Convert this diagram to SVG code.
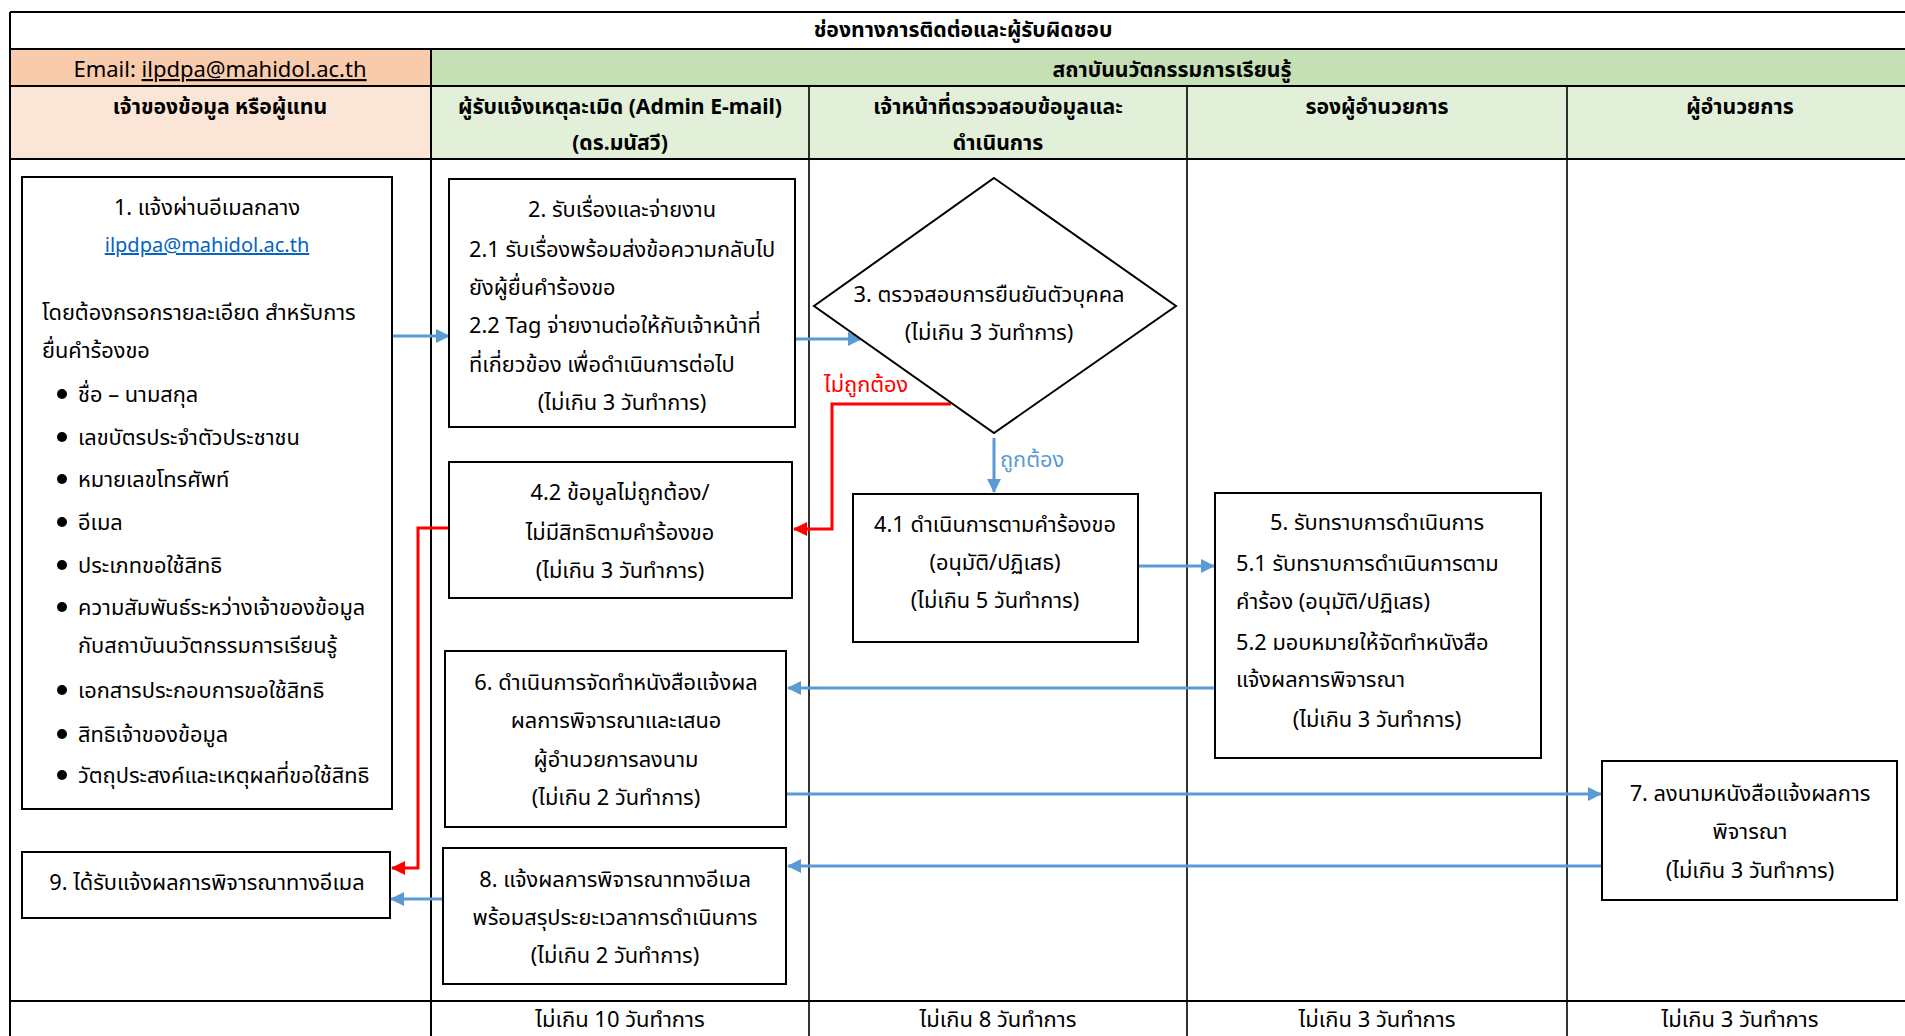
<svg xmlns="http://www.w3.org/2000/svg" width="1905" height="1036" viewBox="0 0 1905 1036">
<style>
.t{font-family:"Noto Sans","Noto Sans Thai","DejaVu Sans",sans-serif;font-size:21.8px;fill:#000}
.c{text-anchor:middle}
.b{font-weight:bold;font-size:21.2px}
.e{font-size:22px}
.box{fill:#fff;stroke:#000;stroke-width:2}
.grid{stroke:#000;stroke-width:2;fill:none}
.thin{stroke:#000;stroke-width:1.6;fill:none}
.blue{stroke:#5B9BD5;stroke-width:3;fill:none}
.red{stroke:#FF0000;stroke-width:3;fill:none}
.u{text-decoration:underline}
</style>
<defs>
<marker id="ab" markerUnits="userSpaceOnUse" markerWidth="14" markerHeight="14" refX="13" refY="7" orient="auto"><path d="M0,0 L14,7 L0,14 z" fill="#5B9BD5"/></marker>
<marker id="ar" markerUnits="userSpaceOnUse" markerWidth="14" markerHeight="14" refX="13" refY="7" orient="auto"><path d="M0,0 L14,7 L0,14 z" fill="#FF0000"/></marker>
</defs>
<rect width="1905" height="1036" fill="#fff"/>
<g id="table">
<rect x="10" y="49" width="421" height="37" fill="#F8CBAD"/>
<rect x="431" y="49" width="1474" height="37" fill="#C5E0B4"/>
<rect x="10" y="86" width="421" height="73" fill="#FBE5D6"/>
<rect x="431" y="86" width="1474" height="73" fill="#E2F0D9"/>
<path class="grid" d="M10,12 H1905 M10,49 H1905 M10,86 H1905 M10,159 H1905 M10,1001 H1905 M10,12 V1036 M431,49 V1036"/>
<path class="thin" d="M809,86 V1036 M1187,86 V1036 M1567,86 V1036"/>
<text class="t c b" x="963" y="37">ช่องทางการติดต่อและผู้รับผิดชอบ</text>
<text class="t c e" x="220" y="77">Email: <tspan class="u">ilpdpa@mahidol.ac.th</tspan></text>
<text class="t c b" x="1172" y="77">สถาบันนวัตกรรมการเรียนรู้</text>
<text class="t c b" x="220" y="114">เจ้าของข้อมูล หรือผู้แทน</text>
<text class="t c b" x="620" y="114">ผู้รับแจ้งเหตุละเมิด (Admin E-mail)</text>
<text class="t c b" x="620" y="150">(ดร.มนัสวี)</text>
<text class="t c b" x="998" y="114">เจ้าหน้าที่ตรวจสอบข้อมูลและ</text>
<text class="t c b" x="998" y="150">ดำเนินการ</text>
<text class="t c b" x="1377" y="114">รองผู้อำนวยการ</text>
<text class="t c b" x="1740" y="114">ผู้อำนวยการ</text>
<text class="t c e" x="620" y="1027">ไม่เกิน 10 วันทำการ</text>
<text class="t c e" x="998" y="1027">ไม่เกิน 8 วันทำการ</text>
<text class="t c e" x="1377" y="1027">ไม่เกิน 3 วันทำการ</text>
<text class="t c e" x="1740" y="1027">ไม่เกิน 3 วันทำการ</text>
</g>
<g id="connectors">
<path class="blue" d="M392,336 H449" marker-end="url(#ab)"/>
<path class="blue" d="M795,339 H861" marker-end="url(#ab)"/>
<path class="red" d="M951,404 H832 V529 H794" marker-end="url(#ar)"/>
<path class="blue" d="M994,438 V492" marker-end="url(#ab)"/>
<path class="blue" d="M1138,566 H1214" marker-end="url(#ab)"/>
<path class="blue" d="M1215,688 H788" marker-end="url(#ab)"/>
<path class="blue" d="M786,794 H1601" marker-end="url(#ab)"/>
<path class="blue" d="M1602,866 H788" marker-end="url(#ab)"/>
<path class="blue" d="M443,899 H391" marker-end="url(#ab)"/>
<path class="red" d="M449,528 H418 V868 H392" marker-end="url(#ar)"/>
<text class="t" x="824" y="392" style="fill:#FF0000">ไม่ถูกต้อง</text>
<text class="t" x="1000" y="467" style="fill:#5B9BD5">ถูกต้อง</text>
</g>
<g id="n1">
<rect class="box" x="22" y="177" width="370" height="632"/>
<text class="t c" x="207" y="215">1. แจ้งผ่านอีเมลกลาง</text>
<text class="t c u" x="207" y="252" style="fill:#0563C1;font-size:20px">ilpdpa@mahidol.ac.th</text>
<text class="t" x="42" y="320">โดยต้องกรอกรายละเอียด สำหรับการ</text>
<text class="t" x="42" y="358">ยื่นคำร้องขอ</text>
<g fill="#000">
<circle cx="62" cy="394" r="5"/><circle cx="62" cy="437" r="5"/><circle cx="62" cy="479" r="5"/><circle cx="62" cy="522" r="5"/><circle cx="62" cy="565" r="5"/><circle cx="62" cy="607" r="5"/><circle cx="62" cy="690" r="5"/><circle cx="62" cy="734" r="5"/><circle cx="62" cy="775" r="5"/>
</g>
<text class="t" x="78" y="402">ชื่อ – นามสกุล</text>
<text class="t" x="78" y="445">เลขบัตรประจำตัวประชาชน</text>
<text class="t" x="78" y="487">หมายเลขโทรศัพท์</text>
<text class="t" x="78" y="530">อีเมล</text>
<text class="t" x="78" y="573">ประเภทขอใช้สิทธิ</text>
<text class="t" x="78" y="615">ความสัมพันธ์ระหว่างเจ้าของข้อมูล</text>
<text class="t" x="78" y="653">กับสถาบันนวัตกรรมการเรียนรู้</text>
<text class="t" x="78" y="698">เอกสารประกอบการขอใช้สิทธิ</text>
<text class="t" x="78" y="742">สิทธิเจ้าของข้อมูล</text>
<text class="t" x="78" y="783">วัตถุประสงค์และเหตุผลที่ขอใช้สิทธิ</text>
</g>
<g id="n2">
<rect class="box" x="449" y="179" width="346" height="248"/>
<text class="t c" x="622" y="217">2. รับเรื่องและจ่ายงาน</text>
<text class="t" x="469" y="257">2.1 รับเรื่องพร้อมส่งข้อความกลับไป</text>
<text class="t" x="469" y="295">ยังผู้ยื่นคำร้องขอ</text>
<text class="t" x="469" y="333">2.2 Tag จ่ายงานต่อให้กับเจ้าหน้าที่</text>
<text class="t" x="469" y="372">ที่เกี่ยวข้อง เพื่อดำเนินการต่อไป</text>
<text class="t c" x="622" y="410">(ไม่เกิน 3 วันทำการ)</text>
</g>
<g id="n3">
<polygon class="box" stroke-width="1.5" points="994,178 1176,306 994,433 814,306"/>
<text class="t c" x="989" y="302">3. ตรวจสอบการยืนยันตัวบุคคล</text>
<text class="t c" x="989" y="340">(ไม่เกิน 3 วันทำการ)</text>
</g>
<g id="n41">
<rect class="box" x="853" y="494" width="285" height="148"/>
<text class="t c" x="995" y="532">4.1 ดำเนินการตามคำร้องขอ</text>
<text class="t c" x="995" y="570">(อนุมัติ/ปฏิเสธ)</text>
<text class="t c" x="995" y="608">(ไม่เกิน 5 วันทำการ)</text>
</g>
<g id="n42">
<rect class="box" x="449" y="462" width="343" height="136"/>
<text class="t c" x="620" y="500">4.2 ข้อมูลไม่ถูกต้อง/</text>
<text class="t c" x="620" y="540">ไม่มีสิทธิตามคำร้องขอ</text>
<text class="t c" x="620" y="578">(ไม่เกิน 3 วันทำการ)</text>
</g>
<g id="n5">
<rect class="box" x="1215" y="493" width="326" height="265"/>
<text class="t c" x="1377" y="530">5. รับทราบการดำเนินการ</text>
<text class="t" x="1236" y="571">5.1 รับทราบการดำเนินการตาม</text>
<text class="t" x="1236" y="609">คำร้อง (อนุมัติ/ปฏิเสธ)</text>
<text class="t" x="1236" y="650">5.2 มอบหมายให้จัดทำหนังสือ</text>
<text class="t" x="1236" y="687">แจ้งผลการพิจารณา</text>
<text class="t c" x="1377" y="727">(ไม่เกิน 3 วันทำการ)</text>
</g>
<g id="n6">
<rect class="box" x="445" y="651" width="341" height="176"/>
<text class="t c" x="616" y="690">6. ดำเนินการจัดทำหนังสือแจ้งผล</text>
<text class="t c" x="616" y="728">ผลการพิจารณาและเสนอ</text>
<text class="t c" x="616" y="767">ผู้อำนวยการลงนาม</text>
<text class="t c" x="616" y="805">(ไม่เกิน 2 วันทำการ)</text>
</g>
<g id="n7">
<rect class="box" x="1602" y="761" width="295" height="139"/>
<text class="t c" x="1750" y="801">7. ลงนามหนังสือแจ้งผลการ</text>
<text class="t c" x="1750" y="839">พิจารณา</text>
<text class="t c" x="1750" y="878">(ไม่เกิน 3 วันทำการ)</text>
</g>
<g id="n8">
<rect class="box" x="443" y="848" width="343" height="136"/>
<text class="t c" x="615" y="887">8. แจ้งผลการพิจารณาทางอีเมล</text>
<text class="t c" x="615" y="925">พร้อมสรุประยะเวลาการดำเนินการ</text>
<text class="t c" x="615" y="963">(ไม่เกิน 2 วันทำการ)</text>
</g>
<g id="n9">
<rect class="box" x="22" y="852" width="368" height="66"/>
<text class="t c" x="207" y="890">9. ได้รับแจ้งผลการพิจารณาทางอีเมล</text>
</g>
</svg>
